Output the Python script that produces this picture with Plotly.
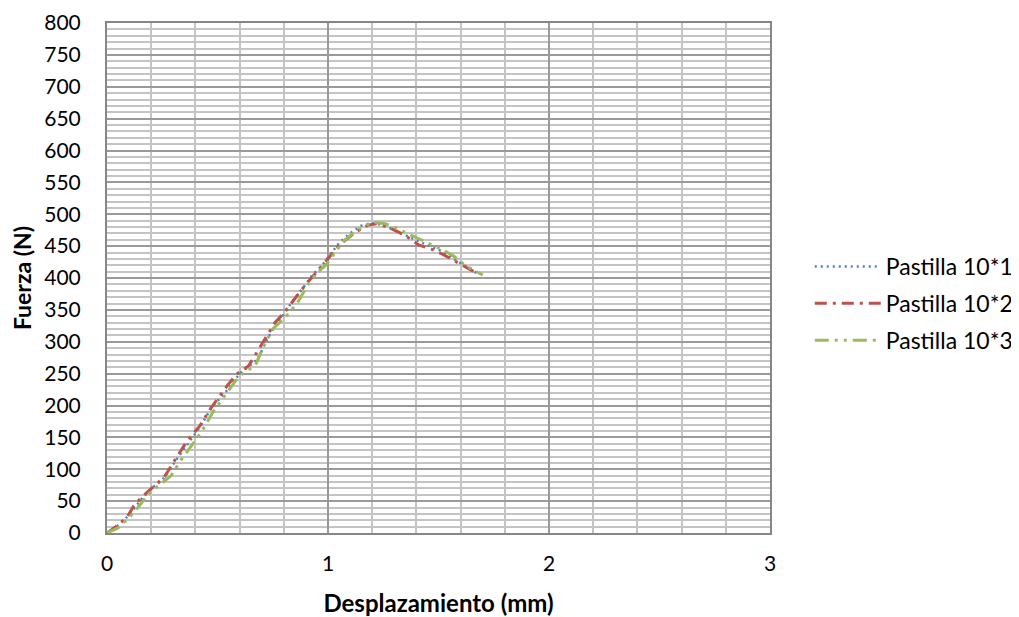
import plotly.graph_objects as go

# Data (Desplazamiento mm, Fuerza N)
x1 = [0, 0.05, 0.10, 0.16, 0.20, 0.25, 0.30, 0.37, 0.42, 0.48, 0.53, 0.57, 0.60, 0.68, 0.71,
      0.74, 0.78, 0.84, 0.89, 0.93, 0.97, 1.01, 1.05, 1.10, 1.15, 1.20, 1.25, 1.30, 1.35,
      1.40, 1.46, 1.51, 1.57, 1.62, 1.68]
y1 = [0, 12, 28, 55, 70, 83, 108, 143, 166, 200, 218, 236, 250, 272, 293,
      314, 333, 364, 386, 405, 418, 436, 455, 470, 482, 486, 483, 475, 467,
      460, 450, 443, 430, 420, 406]

x2 = [0, 0.04, 0.09, 0.12, 0.16, 0.21, 0.26, 0.31, 0.36, 0.42, 0.47, 0.50, 0.55, 0.59, 0.64,
      0.69, 0.73, 0.76, 0.80, 0.85, 0.90, 0.95, 1.00, 1.04, 1.08, 1.13, 1.18, 1.22, 1.27,
      1.32, 1.37, 1.41, 1.47, 1.52, 1.58, 1.62, 1.66]
y2 = [0, 10, 24, 42, 57, 72, 88, 116, 143, 168, 196, 210, 234, 250, 262,
      290, 312, 330, 345, 368, 390, 410, 430, 448, 460, 473, 483, 485, 480,
      472, 462, 452, 445, 437, 425, 418, 410]

x3 = [0, 0.05, 0.10, 0.14, 0.19, 0.24, 0.29, 0.33, 0.39, 0.43, 0.48, 0.54, 0.58, 0.62, 0.67,
      0.71, 0.75, 0.80, 0.86, 0.91, 0.95, 0.99, 1.03, 1.07, 1.12, 1.17, 1.21, 1.26, 1.31,
      1.36, 1.42, 1.47, 1.52, 1.57, 1.62, 1.66, 1.70]
y3 = [0, 8, 24, 40, 62, 76, 90, 112, 140, 160, 190, 220, 238, 252, 262,
      294, 320, 336, 360, 390, 408, 420, 440, 458, 472, 483, 487, 485, 478,
      470, 461, 452, 444, 434, 420, 412, 405]

names = ["Pastilla 10*1", "Pastilla 10*2", "Pastilla 10*3"]
colors = ["#4F81BD", "#C0504D", "#9BBB59"]

FONT = "Lato"

fig = go.Figure()
fig.add_trace(go.Scatter(x=x1, y=y1, mode="lines", name=names[0], legendgroup="a",
                         line=dict(color=colors[0], width=2.5, dash="2px,4px")))
fig.add_trace(go.Scatter(x=x2, y=y2, mode="lines", name=names[1], legendgroup="b",
                         line=dict(color=colors[1], width=3, dash="12px,6px,3px,6px")))
fig.add_trace(go.Scatter(x=x3, y=y3, mode="lines", name=names[2], legendgroup="c",
                         line=dict(color=colors[2], width=3, dash="14px,6px,3px,6px,3px,6px")))

fig.update_layout(
    width=1019, height=617,
    margin=dict(l=99, r=257, t=15, b=92, autoexpand=False),
    paper_bgcolor="white", plot_bgcolor="white",
    font=dict(family=FONT, size=21, color="#000000"),
    showlegend=True,
    legend=dict(x=1.06, xanchor="left", y=0.45, yanchor="middle",
                font=dict(family=FONT, size=23), tracegroupgap=4,
                bgcolor="rgba(0,0,0,0)", itemwidth=66),
    xaxis=dict(
        range=[0, 3], dtick=1, tick0=0, showgrid=True, automargin=False,
        gridcolor="#9a9a9a", gridwidth=1.5,
        minor=dict(dtick=0.2, showgrid=True, gridcolor="#c4c4c4", gridwidth=1.5),
        showline=True, linecolor="#868686", linewidth=2, mirror=True,
        ticks="", zeroline=False, ticklabelstandoff=11,
        tickfont=dict(family=FONT, size=21),
        title=dict(text="<b>Desplazamiento (mm)</b>", font=dict(family=FONT, size=24), standoff=21),
    ),
    yaxis=dict(
        range=[0, 800], dtick=50, tick0=0, showgrid=True, automargin=False,
        gridcolor="#9a9a9a", gridwidth=1.5,
        minor=dict(dtick=10, showgrid=True, gridcolor="#c4c4c4", gridwidth=1.5),
        showline=True, linecolor="#868686", linewidth=2, mirror=True,
        ticks="", zeroline=False, ticklabelstandoff=20,
        tickfont=dict(family=FONT, size=21),
        title=dict(text="<b>Fuerza (N)</b>", font=dict(family=FONT, size=23), standoff=6),
    ),
)

fig.write_html("out.html")
